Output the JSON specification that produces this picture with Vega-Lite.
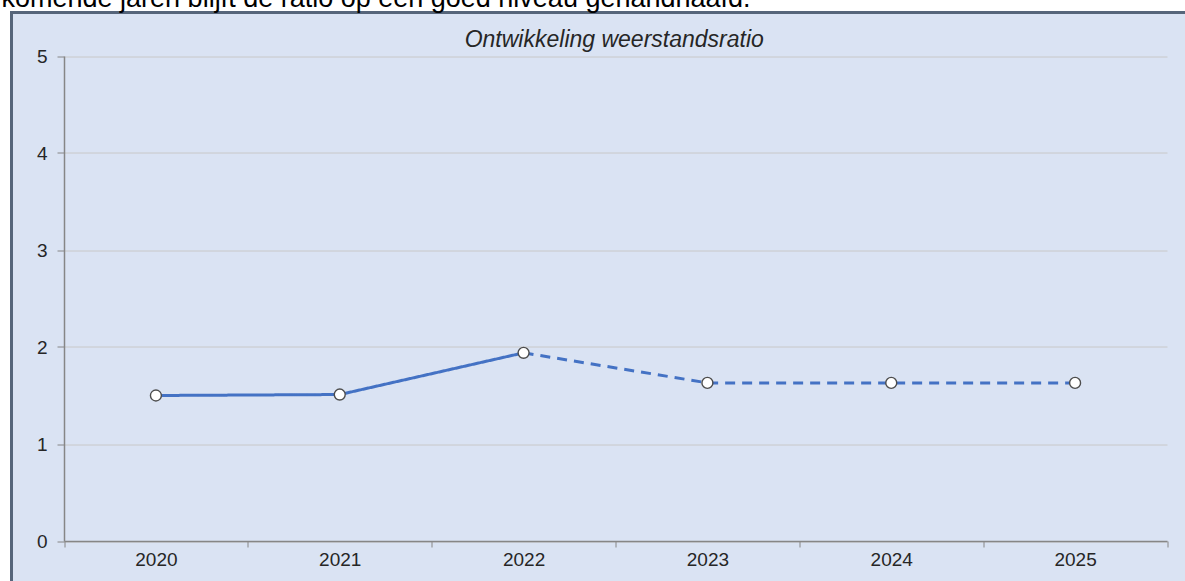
{
  "$schema": "https://vega.github.io/schema/vega-lite/v6.json",
  "autosize": {"type": "none"},
  "padding": {"left": 11.5, "top": 12.5, "right": -4, "bottom": -4},
  "width": 1177.5,
  "height": 572.5,
  "background": "white",
  "view": {"fill": "#dae3f3", "stroke": "#56657a", "strokeWidth": 3},
  "title": {
    "text": "Ontwikkeling weerstandsratio",
    "font": "Liberation Sans",
    "fontSize": 23,
    "fontStyle": "italic",
    "fontWeight": "normal",
    "color": "#262626",
    "anchor": "middle",
    "baseline": "alphabetic",
    "offset": -85,
    "dx": 14
  },
  "data": {
    "values": [
      {"jaar": "2020", "ratio": 1.5, "reeks": "realisatie"},
      {"jaar": "2021", "ratio": 1.51, "reeks": "realisatie"},
      {"jaar": "2022", "ratio": 1.94, "reeks": "realisatie"},
      {"jaar": "2022", "ratio": 1.94, "reeks": "prognose"},
      {"jaar": "2023", "ratio": 1.63, "reeks": "prognose"},
      {"jaar": "2024", "ratio": 1.63, "reeks": "prognose"},
      {"jaar": "2025", "ratio": 1.63, "reeks": "prognose"}
    ]
  },
  "encoding": {
    "x": {
      "field": "jaar",
      "type": "ordinal",
      "scale": {"type": "band", "range": [52.5, 1155.5], "paddingInner": 0, "paddingOuter": 0},
      "axis": {
        "title": null,
        "orient": "bottom",
        "offset": -44,
        "labelAngle": 0,
        "tickBand": "extent",
        "tickSize": 6,
        "tickColor": "#868686",
        "domainColor": "#868686",
        "domainWidth": 1.5,
        "labelFont": "Liberation Sans",
        "labelFontSize": 19,
        "labelColor": "#262626",
        "labelPadding": 3,
        "grid": false
      }
    },
    "y": {
      "field": "ratio",
      "type": "quantitative",
      "scale": {"domain": [0, 5], "range": [528.5, 43.5], "nice": false, "zero": true},
      "axis": {
        "orient": "left",
        "offset": -52.5,
        "values": [0, 1, 2, 3, 4, 5],
        "format": "d",
        "grid": true,
        "gridColor": "#c8c8c8",
        "gridWidth": 1,
        "tickSize": 7,
        "tickColor": "#868686",
        "domainColor": "#868686",
        "domainWidth": 1.5,
        "labelFont": "Liberation Sans",
        "labelFontSize": 19,
        "labelColor": "#262626",
        "labelPadding": 10,
        "title": "komende jaren blijft de ratio op een goed niveau gehandhaafd.",
        "titleAngle": 0,
        "titleAlign": "left",
        "titleBaseline": "alphabetic",
        "titleX": -63,
        "titleY": -6,
        "titleFont": "Liberation Sans",
        "titleFontSize": 27,
        "titleFontWeight": "normal",
        "titleColor": "#000000"
      }
    }
  },
  "layer": [
    {
      "mark": {"type": "line", "color": "#4472c4", "strokeWidth": 3},
      "encoding": {
        "strokeDash": {
          "field": "reeks",
          "type": "nominal",
          "scale": {"domain": ["realisatie", "prognose"], "range": [[1, 0], [10, 7]]},
          "legend": null
        }
      }
    },
    {
      "transform": [{"filter": "!(datum.jaar === '2022' && datum.reeks === 'prognose')"}],
      "mark": {"type": "point", "shape": "circle", "filled": true, "fill": "white", "stroke": "#4d4d4d", "strokeWidth": 1.4, "size": 120, "opacity": 1}
    }
  ]
}
